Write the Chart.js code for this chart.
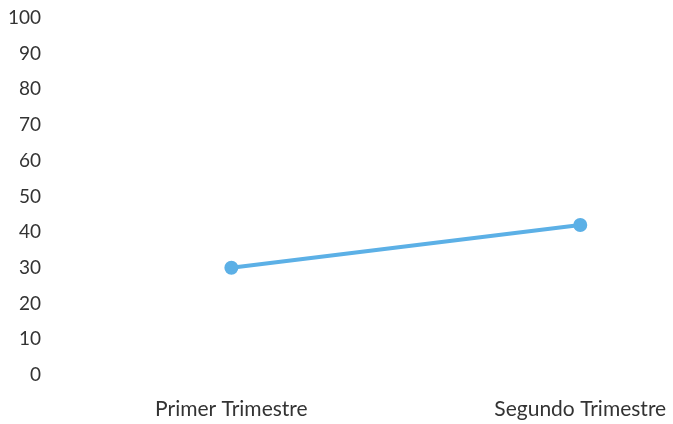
<!DOCTYPE html>
<html><head><meta charset="utf-8">
<script src="https://cdn.jsdelivr.net/npm/chart.js@4/dist/chart.umd.min.js"></script>
<style>html,body{margin:0;padding:0;background:#fff}#w{width:673px;height:424px}</style>
</head><body><div id="w"><canvas id="c"></canvas></div>
<script>
const categories = ['Primer Trimestre', 'Segundo Trimestre'];
const values = [30, 42];
const yTicks = [0, 10, 20, 30, 40, 50, 60, 70, 80, 90, 100];

const points = values.map((v, i) => ({x: i, y: v}));
new Chart(document.getElementById('c'), {
  type: 'line',
  data: { datasets: [{ data: points, borderColor: '#5cb0e6', backgroundColor: '#5cb0e6',
    borderWidth: 4, pointRadius: 5, pointHoverRadius: 5, tension: 0 }] },
  options: {
    responsive: true, maintainAspectRatio: false, animation: false,
    layout: { padding: { left: 4, right: 0, top: 18, bottom: -20 } },
    plugins: { legend: { display: false }, tooltip: { enabled: false } },
    scales: {
      x: { type: 'linear', min: -0.534, max: 1.24,
        afterBuildTicks: s => { s.ticks = categories.map((c, i) => ({value: i})); },
        afterFit: s => { s.paddingLeft = 0; s.paddingRight = 0; },
        ticks: { callback: v => categories[v] || '', color: '#333', font: { family: 'Lato', size: 21 }, padding: 22, maxRotation: 0 },
        grid: { display: false, drawTicks: false }, border: { display: false } },
      y: { min: 0, max: 100,
        afterBuildTicks: s => { s.ticks = yTicks.map(v => ({value: v})); },
        afterFit: s => { s.paddingTop = 0; s.paddingBottom = 0; },
        ticks: { color: '#333', font: { family: 'Lato', size: 19 }, padding: 4 },
        grid: { display: false, drawTicks: false }, border: { display: false } }
    }
  }
});
</script></body></html>
